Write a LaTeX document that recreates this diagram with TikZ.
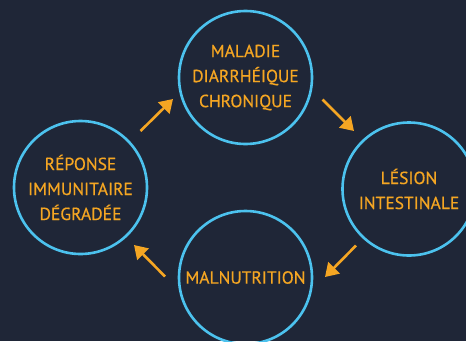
\documentclass[tikz,border=0pt]{standalone}
\usepackage{fontspec}
\setmainfont{PT Sans}[FakeBold=0.5]
\usetikzlibrary{arrows.meta}
\definecolor{bg}{HTML}{1F2637}
\definecolor{ring}{HTML}{4CC2EE}
\definecolor{ora}{HTML}{F5A623}
\tikzset{
  stage/.style={circle, draw=ring, line width=2.6pt, minimum size=133pt, inner sep=0pt,
    text=ora, align=center, font=\fontsize{17.5}{25}\selectfont},
  flow/.style={draw=ora, line width=2.6pt, -{Triangle[length=13pt,width=16pt]}}
}
\begin{document}
\begin{tikzpicture}[x=1pt,y=-1pt]
\fill[bg] (0,0) rectangle (466,341);
\useasboundingbox (0,0) rectangle (466,341);
\node[stage] (top) at (245.5,77.5) {MALADIE\\DIARRHÉIQUE\\CHRONIQUE};
\node[stage] (right) at (409,189) {LÉSION\\INTESTINALE};
\node[stage] (bottom) at (245.5,277.5) {MALNUTRITION};
\node[stage] (left) at (80.5,187.5) {RÉPONSE\\IMMUNITAIRE\\DÉGRADÉE};
\coordinate (a1s) at (140.5,131);
\coordinate (a1e) at (173,99);
\coordinate (a2s) at (322.5,99.5);
\coordinate (a2e) at (354,131);
\coordinate (a3s) at (356,245.5);
\coordinate (a3e) at (325,277);
\coordinate (a4s) at (165,276.5);
\coordinate (a4e) at (134,245);
\draw[flow] (a1s) -- (a1e);
\draw[flow] (a2s) -- (a2e);
\draw[flow] (a3s) -- (a3e);
\draw[flow] (a4s) -- (a4e);
\end{tikzpicture}
\end{document}
